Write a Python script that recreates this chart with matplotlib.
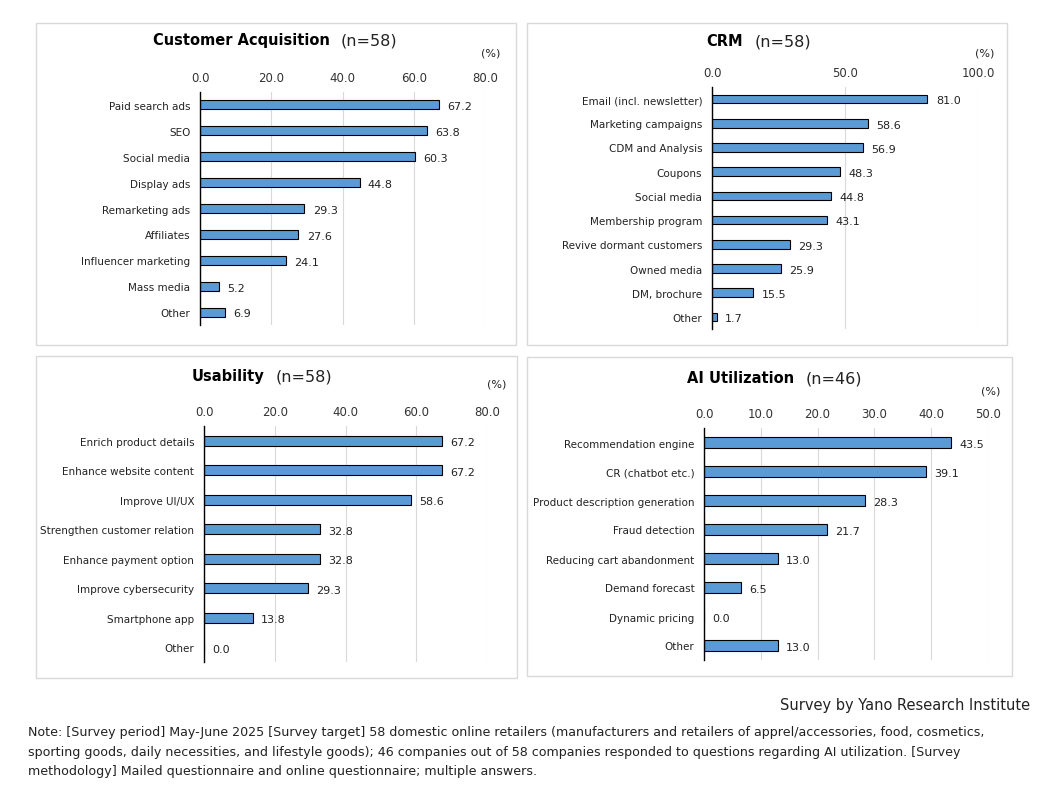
import matplotlib
matplotlib.use("Agg")
import matplotlib.pyplot as plt
from matplotlib.patches import Rectangle
from matplotlib.text import Annotation

# data
acq_labels = ["Paid search ads", "SEO", "Social media", "Display ads", "Remarketing ads",
              "Affiliates", "Influencer marketing", "Mass media", "Other"]
acq_values = [67.2, 63.8, 60.3, 44.8, 29.3, 27.6, 24.1, 5.2, 6.9]

crm_labels = ["Email (incl. newsletter)", "Marketing campaigns", "CDM and Analysis", "Coupons",
              "Social media", "Membership program", "Revive dormant customers", "Owned media",
              "DM, brochure", "Other"]
crm_values = [81.0, 58.6, 56.9, 48.3, 44.8, 43.1, 29.3, 25.9, 15.5, 1.7]

usa_labels = ["Enrich product details", "Enhance website content", "Improve UI/UX",
              "Strengthen customer relation", "Enhance payment option", "Improve cybersecurity",
              "Smartphone app", "Other"]
usa_values = [67.2, 67.2, 58.6, 32.8, 32.8, 29.3, 13.8, 0.0]

ai_labels = ["Recommendation engine", "CR (chatbot etc.)", "Product description generation",
             "Fraud detection", "Reducing cart abandonment", "Demand forecast",
             "Dynamic pricing", "Other"]
ai_values = [43.5, 39.1, 28.3, 21.7, 13.0, 6.5, 0.0, 13.0]

W, H = 1051, 812
plt.rcParams['font.family'] = ['DejaVu Sans']
fig = plt.figure(figsize=(W / 100, H / 100), dpi=100)

BAR = "#5B9BD5"
GRID = "#D9D9D9"


def fx(x):
    return x / W


def fy(y):
    return 1 - y / H


def box(l, t, r, b):
    fig.add_artist(Rectangle((fx(l), fy(b)), (r - l) / W, (b - t) / H,
                             transform=fig.transFigure, fill=False,
                             edgecolor=GRID, linewidth=1.0))


def panel(rect, labels, values, xmax, step, title, n_text, title_xy, pct_xy):
    l, t, r, b = rect
    ax = fig.add_axes([fx(l), fy(b), (r - l) / W, (b - t) / H])
    ypos = list(range(len(labels)))
    ax.barh(ypos, values, height=0.35, color=BAR, edgecolor="black", linewidth=0.8, zorder=3)
    ax.set_xlim(0, xmax)
    ax.set_ylim(len(labels) - 0.5, -0.5)
    ticks = [i * step for i in range(int(round(xmax / step)) + 1)]
    ax.set_xticks(ticks)
    ax.set_xticklabels([f"{v:.1f}" for v in ticks], fontsize=8.5, color="#333333")
    ax.xaxis.tick_top()
    ax.tick_params(axis="x", length=0, pad=6)
    ax.set_yticks(ypos)
    ax.set_yticklabels(labels, fontsize=7.5, color="#222222")
    ax.tick_params(axis="y", length=0, pad=7)
    ax.grid(axis="x", color=GRID, linewidth=0.8, zorder=0)
    for s in ["top", "right", "bottom"]:
        ax.spines[s].set_visible(False)
    ax.spines["left"].set_color("black")
    ax.spines["left"].set_linewidth(1.0)
    ax.spines["left"].set_zorder(4)
    for y, v in zip(ypos, values):
        ax.annotate(f"{v:.1f}", xy=(v, y), xytext=(6, -1), textcoords="offset points",
                    ha="left", va="center", fontsize=8, color="#222222")
    tt = fig.text(fx(title_xy[0]), fy(title_xy[1]), title, fontsize=10.5, fontweight="bold",
                  ha="center", va="center")
    fig.add_artist(Annotation(n_text, xy=(1, 0.5), xycoords=tt, xytext=(8, 0),
                              textcoords="offset points", ha="left", va="center",
                              fontsize=11.5, color="#222222"))
    fig.text(fx(pct_xy[0]), fy(pct_xy[1]), "(%)", fontsize=8, ha="center", va="center",
             color="#222222")
    return ax


box(36, 24, 516, 346)
box(527, 24, 1007, 346)
box(36, 357, 517, 679)
box(527, 358, 1012, 677)

panel((200, 93, 485, 326), acq_labels, acq_values, 80, 20,
      "Customer Acquisition", "(n=58)", (241, 41), (491, 53))
panel((712, 88, 978, 330), crm_labels, crm_values, 100, 50,
      "CRM", "(n=58)", (725, 42), (985, 53))
panel((204, 427, 487, 663), usa_labels, usa_values, 80, 20,
      "Usability", "(n=58)", (228, 377), (497, 385))
panel((704, 429, 988, 661), ai_labels, ai_values, 50, 10,
      "AI Utilization", "(n=46)", (741, 379), (991, 391))

fig.text(fx(1030), fy(706), "Survey by Yano Research Institute", fontsize=10.5,
         ha="right", va="center", color="#222222")
note_lines = [
    "Note: [Survey period] May-June 2025 [Survey target] 58 domestic online retailers (manufacturers and retailers of apprel/accessories, food, cosmetics,",
    "sporting goods, daily necessities, and lifestyle goods); 46 companies out of 58 companies responded to questions regarding AI utilization. [Survey",
    "methodology] Mailed questionnaire and online questionnaire; multiple answers.",
]
for i, line in enumerate(note_lines):
    fig.text(fx(28), fy(733 + i * 19.5), line, fontsize=9.1, ha="left", va="center",
             color="#222222")

fig.savefig("out.png", dpi=100)
